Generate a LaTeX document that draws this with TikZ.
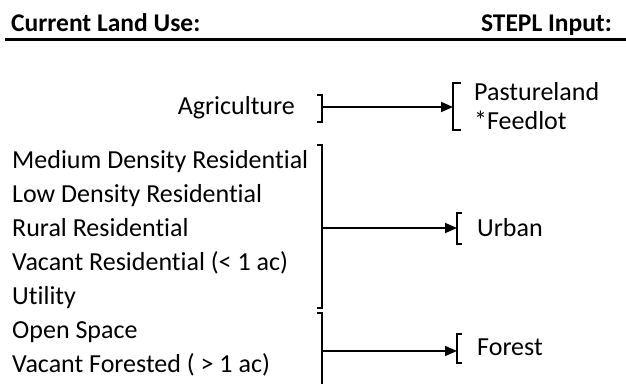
\documentclass[tikz,border=0pt]{standalone}
\usepackage{fontspec}
\setmainfont[Ligatures=NoCommon]{Carlito}
\usetikzlibrary{arrows.meta}
\begin{document}
\begin{tikzpicture}[x=1pt,y=-1pt,
  txt/.style={inner sep=0pt,font=\fontsize{26}{30}\selectfont},
  hdr/.style={inner sep=0pt,font=\fontsize{25.5}{30}\selectfont\bfseries},
  brk/.style={line width=1.6pt},
  conn/.style={line width=1.6pt,-{Triangle[length=12pt,width=10pt]}}]
\useasboundingbox (0,0) rectangle (626,383);
% headers
\node[hdr,anchor=base west] (h1) at (11,31) {Current Land Use:};
\node[hdr,anchor=base east] (h2) at (612,31) {STEPL Input:};
\draw[line width=3pt] (5,39) -- (626,39);
% left texts
\node[txt,anchor=base east] (agri) at (295,114) {Agriculture};
\node[txt,anchor=base west] (l1) at (12,168) {Medium Density Residential};
\node[txt,anchor=base west] (l2) at (12,202) {Low Density Residential};
\node[txt,anchor=base west] (l3) at (12,236) {Rural Residential};
\node[txt,anchor=base west] (l4) at (12,270) {Vacant Residential (< 1 ac)};
\node[txt,anchor=base west] (l5) at (12,304) {Utility};
\node[txt,anchor=base west] (l6) at (12,338) {Open Space};
\node[txt,anchor=base west] (l7) at (12,372) {Vacant Forested ( > 1 ac)};
% right texts
\node[txt,anchor=base west] (r1) at (474,100) {Pastureland};
\node[txt,anchor=base west] (r2) at (474,129) {*Feedlot};
\node[txt,anchor=base west] (r3) at (477,236) {Urban};
\node[txt,anchor=base west] (r4) at (477,355) {Forest};
% brackets
\draw[brk] (317,95) -- (322,95) -- (322,122) -- (317,122);
\draw[brk] (461,83) -- (453,83) -- (453,130) -- (461,130);
\draw[brk] (317,145) -- (322,145) -- (322,308) -- (317,308);
\draw[brk] (462,213) -- (457,213) -- (457,244) -- (462,244);
\draw[brk] (317,313) -- (322,313) -- (322,385);
\draw[brk] (462,334) -- (457,334) -- (457,363) -- (462,363);
% connector endpoints
\coordinate (a1) at (322,107);
\coordinate (b1) at (453,107);
\coordinate (a2) at (322,228);
\coordinate (b2) at (457,228);
\coordinate (a3) at (322,351);
\coordinate (b3) at (457,351);
\draw[conn] (a1) -- (b1);
\draw[conn] (a2) -- (b2);
\draw[conn] (a3) -- (b3);
\end{tikzpicture}
\end{document}
